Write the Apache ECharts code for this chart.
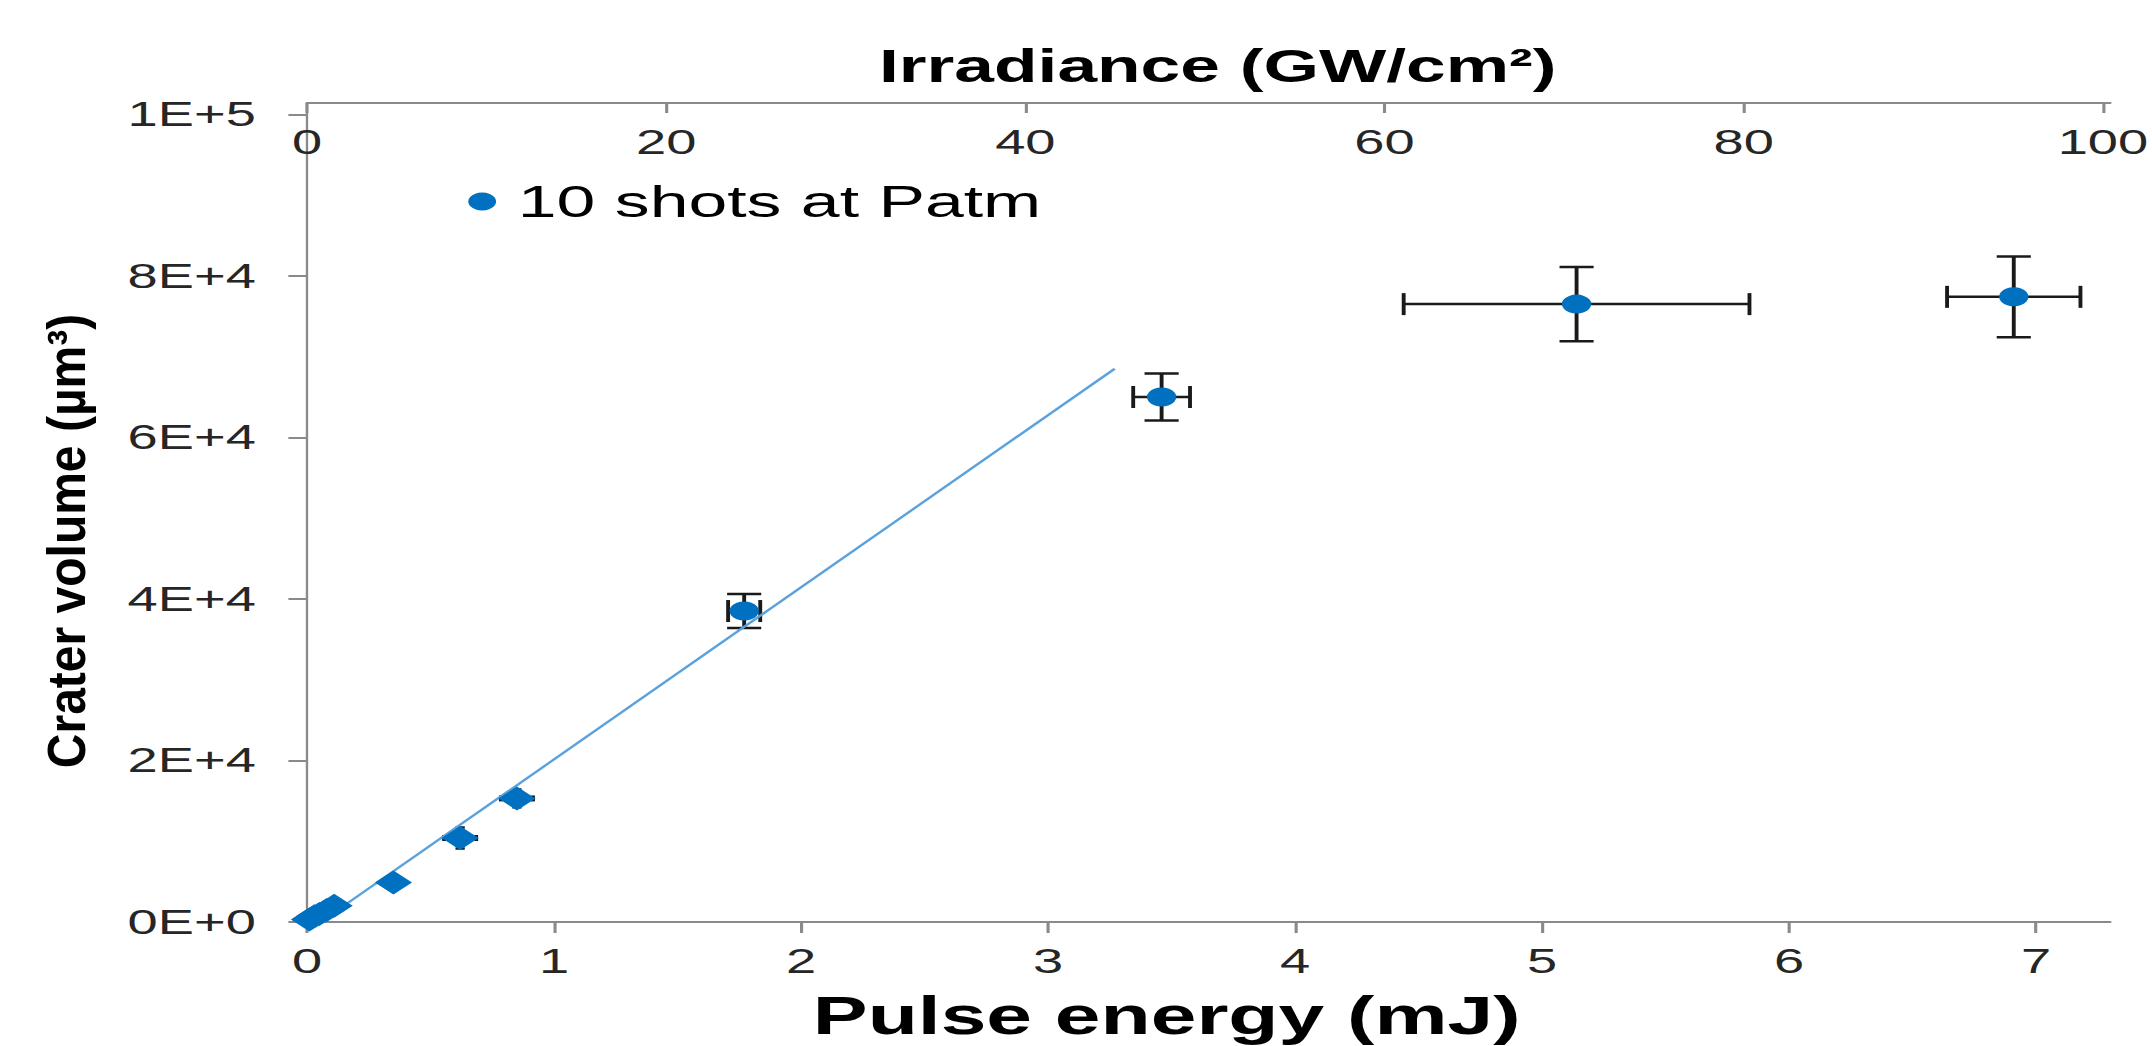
<!DOCTYPE html>
<html>
<head>
<meta charset="utf-8">
<script src="https://cdn.jsdelivr.net/npm/echarts@6/dist/echarts.min.js"></script>
<style>
html, body { margin: 0; padding: 0; background: #fff; overflow: hidden; }
#chart { width: 1388px; height: 1046px; transform: scaleX(1.5504); transform-origin: 0 0; }
</style>
</head>
<body>
<div id="chart"></div>
<script>
// ---- data ----
const seriesName = '10 shots at Patm';
const yTitle = 'Crater volume (µm³)';
// main points (circle markers)
const energy = [1.77, 3.46, 5.14, 6.91];          // mJ
const volume = [38500, 65000, 76500, 77400];      // µm³
const energyErr = [0.065, 0.115, 0.70, 0.27];
const volumeErr = [2100, 2900, 4600, 5000];
// low-energy points (diamond markers)
const lowEnergy = [0.01, 0.03, 0.05, 0.08, 0.11, 0.35, 0.62, 0.85];
const lowVolume = [300, 700, 1000, 1500, 2000, 4900, 10400, 15300];
const lowEnergyErr = [0.005, 0.01, 0.01, 0.02, 0.03, 0.04, 0.065, 0.065];
const lowVolumeErr = [200, 300, 300, 400, 500, 600, 1300, 1100];
// linear trend line end points
const trendEnergy = [0.06, 3.27];
const trendVolume = [100, 68500];
// axis ticks
const energyTicks = [0, 1, 2, 3, 4, 5, 6, 7];
const irradianceTicks = [0, 20, 40, 60, 80, 100];
const volumeTicks = [0, 20000, 40000, 60000, 80000, 100000];

const FONT = "'Liberation Sans', Arial, sans-serif";
const AXIS_GRAY = '#8a8a8a';
const LABEL_COLOR = '#262626';
const BLUE = '#0070C0';

function sci(v) {
  if (v === 0) return '0E+0';
  const e = Math.floor(Math.log10(Math.abs(v)) + 1e-9);
  const m = Math.round(v / Math.pow(10, e) * 100) / 100;
  return m + 'E+' + e;
}

function makeErrRender(h) {
  return function (params, api) {
    const x = api.value(0), y = api.value(1), xe = api.value(2), ye = api.value(3);
    const l = api.coord([x - xe, y]), r = api.coord([x + xe, y]);
    const t = api.coord([x, y + ye]), b = api.coord([x, y - ye]);
    const style = { stroke: '#1a1a1a', lineWidth: 2.5 };
    const ln = (x1, y1, x2, y2) => ({ type: 'line', shape: { x1, y1, x2, y2 }, style });
    return {
      type: 'group',
      children: [
        ln(l[0], l[1], r[0], r[1]),
        ln(t[0], t[1], b[0], b[1]),
        ln(l[0], l[1] - h, l[0], l[1] + h),
        ln(r[0], r[1] - h, r[0], r[1] + h),
        ln(t[0] - h, t[1], t[0] + h, t[1]),
        ln(b[0] - h, b[1], b[0] + h, b[1])
      ]
    };
  };
}

const mainPts = energy.map((x, i) => [x, volume[i]]);
const mainErr = energy.map((x, i) => [x, volume[i], energyErr[i], volumeErr[i]]);
const lowPts = lowEnergy.map((x, i) => [x, lowVolume[i]]);
const lowErr = lowEnergy.map((x, i) => [x, lowVolume[i], lowEnergyErr[i], lowVolumeErr[i]]);
const trend = trendEnergy.map((x, i) => [x, trendVolume[i]]);

const chart = echarts.init(document.getElementById('chart'), null, { renderer: 'svg' });
chart.setOption({
  animation: false,
  backgroundColor: '#fff',
  textStyle: { fontFamily: FONT },
  grid: { left: 198, right: 27, top: 103, bottom: 124, containLabel: false, outerBoundsMode: 'none' },
  legend: {
    data: [seriesName],
    left: 302, top: 179, padding: 0,
    itemWidth: 36, itemHeight: 18, icon: 'circle',
    textStyle: { fontSize: 45, color: '#000', fontFamily: FONT }
  },
  graphic: [{
    type: 'text',
    x: 43, y: 541,
    rotation: Math.PI / 2,
    scaleY: 0.72,
    silent: true,
    style: {
      text: yTitle, fontSize: 48, fontWeight: 'bold', fill: '#000',
      fontFamily: FONT, align: 'center', verticalAlign: 'middle'
    }
  }],
  xAxis: [
    {
      type: 'value', position: 'bottom', min: 0, max: 7.3, interval: 1,
      name: 'Pulse energy (mJ)', nameLocation: 'middle', nameGap: 67,
      nameTextStyle: { fontSize: 53, fontWeight: 'bold', color: '#000', fontFamily: FONT, padding: [0, 54, 0, 0] },
      axisLine: { lineStyle: { color: AXIS_GRAY, width: 2 } },
      axisTick: { length: 11, customValues: energyTicks, lineStyle: { color: AXIS_GRAY, width: 2 } },
      axisLabel: { fontSize: 35, color: LABEL_COLOR, margin: 22, customValues: energyTicks, fontFamily: FONT },
      splitLine: { show: false }
    },
    {
      type: 'value', position: 'top', min: 0, max: 100.4, interval: 20,
      name: 'Irradiance (GW/cm²)', nameLocation: 'middle', nameGap: 14,
      nameTextStyle: { fontSize: 46, fontWeight: 'bold', color: '#000', fontFamily: FONT, padding: [0, 0, 0, 12] },
      axisLine: { lineStyle: { color: AXIS_GRAY, width: 2 } },
      axisTick: { inside: true, length: 10, customValues: irradianceTicks, lineStyle: { color: AXIS_GRAY, width: 2 } },
      axisLabel: { inside: true, fontSize: 35, color: LABEL_COLOR, margin: 22, customValues: irradianceTicks, fontFamily: FONT },
      splitLine: { show: false }
    }
  ],
  yAxis: {
    type: 'value', min: 0, max: 101400, interval: 20000,
    axisLine: { show: true, lineStyle: { color: AXIS_GRAY, width: 1.5 } },
    axisTick: { show: true, length: 12, customValues: volumeTicks, lineStyle: { color: AXIS_GRAY, width: 2 } },
    axisLabel: { fontSize: 35, color: LABEL_COLOR, margin: 33, customValues: volumeTicks, formatter: sci, fontFamily: FONT },
    splitLine: { show: false }
  },
  series: [
    {
      type: 'custom', name: 'errLow', xAxisIndex: 0, renderItem: makeErrRender(3),
      data: lowErr, encode: { x: 0, y: 1 }, z: 1, silent: true
    },
    {
      type: 'custom', name: 'errMain', xAxisIndex: 0, renderItem: makeErrRender(11),
      data: mainErr, encode: { x: 0, y: 1 }, z: 1, silent: true
    },
    {
      type: 'line', name: 'trend', xAxisIndex: 0, data: trend, showSymbol: false,
      lineStyle: { color: '#5aa2dd', width: 2 }, z: 2, silent: true
    },
    {
      type: 'scatter', name: 'low', xAxisIndex: 0, data: lowPts, symbol: 'diamond', symbolSize: 24,
      itemStyle: { color: BLUE, opacity: 1 }, z: 3
    },
    {
      type: 'scatter', name: seriesName, xAxisIndex: 0, data: mainPts, symbol: 'circle', symbolSize: 19,
      itemStyle: { color: BLUE, opacity: 1 }, z: 3
    }
  ]
});
</script>
</body>
</html>
